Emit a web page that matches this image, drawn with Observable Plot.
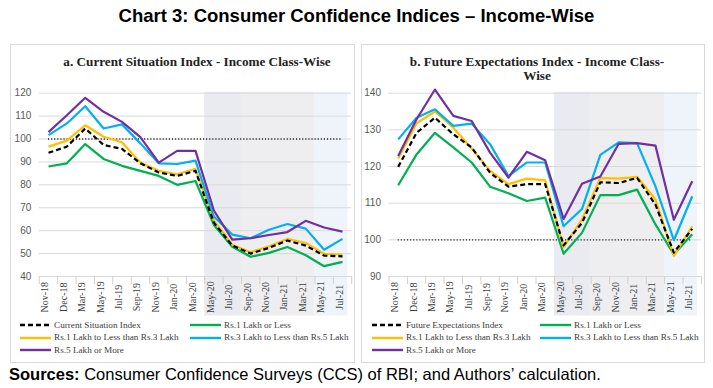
<!DOCTYPE html>
<html><head><meta charset="utf-8">
<script src="https://cdn.jsdelivr.net/npm/d3@7"></script>
<script src="https://cdn.jsdelivr.net/npm/@observablehq/plot@0.6"></script>
<style>
body{margin:0;background:#fff;}
#root{position:relative;width:713px;height:388px;overflow:hidden;font-family:"Liberation Sans",Arial,sans-serif;background:#fff;}
.abs{position:absolute;white-space:nowrap;}
.panel{position:absolute;border:1px solid #d9d9d9;box-sizing:border-box;background:#fff;}
.ptitle{position:absolute;font-family:"Liberation Serif",serif;font-weight:bold;font-size:13.2px;color:#222;text-align:center;line-height:14.3px;}
.leg{position:absolute;font-family:"Liberation Serif",serif;font-size:9.2px;color:#404040;line-height:12px;white-space:nowrap;}
svg.plot{position:absolute;}
</style></head>
<body><div id="root"></div>
<script>
const months = ["Nov-18","Dec-18","Mar-19","May-19","Jul-19","Sep-19","Nov-19","Jan-20","Mar-20","May-20","Jul-20","Sep-20","Nov-20","Jan-21","Mar-21","May-21","Jul-21"];

// a. Current Situation Index
const csiOverall = [94, 96.7, 104.6, 97.4, 95.7, 89.4, 85.4, 83.9, 86.1, 63.5, 53.5, 50, 52.5, 55.7, 53.5, 49.1, 48.8];
const csiUpTo1L = [88, 89.4, 97.8, 91.3, 88.3, 86.1, 83.9, 80, 81.7, 62.5, 53, 48.6, 50.3, 52.9, 49.3, 44.5, 46.4];
const csi1to3L  = [96.7, 99.3, 106, 101, 98.6, 89.7, 86.1, 84.6, 87, 64.5, 53.9, 50.6, 53.2, 56.4, 54.6, 49.9, 49.6];
const csi3to5L  = [101.7, 106.8, 114.3, 104.6, 106.4, 98.1, 89.4, 89.1, 90.6, 66.2, 58.3, 56.7, 60.4, 62.9, 60.9, 51.7, 56.4];
const csi5Lplus = [103, 110.4, 118, 111.9, 107.5, 100.8, 89.7, 94.8, 94.8, 68.8, 56.1, 56.7, 58.1, 59.4, 64.3, 61.4, 59.6];

// b. Future Expectations Index
const feiOverall = [119.9, 129.2, 133.3, 128.8, 125.2, 118.3, 114.5, 115.2, 115.2, 98.5, 104.6, 115.7, 115.5, 116.9, 109.6, 96.5, 103];
const feiUpTo1L = [114.9, 123.3, 129.2, 125.2, 121.1, 114.5, 112.7, 110.6, 111.5, 96.2, 101.9, 112.2, 112.2, 113.7, 104.2, 96, 101.5];
const fei1to3L  = [122.2, 131.8, 135, 130.6, 124.9, 118.8, 115.2, 116.7, 116.2, 98, 105.5, 116.9, 116.7, 117.2, 111, 95.6, 103.7];
const fei3to5L  = [127.4, 133.3, 135.6, 131.1, 131.7, 126.1, 117.4, 121.1, 121.1, 103.7, 108.4, 123.2, 126.6, 126.4, 114.6, 99.9, 111.9];
const fei5Lplus = [122.9, 132.9, 141, 133.8, 132.4, 123.8, 117, 124, 121.7, 105.7, 115.3, 117.3, 126.2, 126.4, 125.7, 105.5, 116];

const csiTicks = [40, 50, 60, 70, 80, 90, 100, 110, 120];
const feiTicks = [90, 100, 110, 120, 130, 140];

// shaded periods (category index)
const shadeStart = [8.5, 10.5, 14.5];
const shadeEnd   = [10.5, 14.5, 16.3];
const shadeFill  = ["#eaebf0", "#eeeef1", "#eff4fa"];

const names = ["Rs.1 Lakh or Less", "Rs.1 Lakh to Less than Rs.3 Lakh", "Rs.3 Lakh to Less than Rs.5 Lakh", "Rs.5 Lakh or More"];
const colors = ["#00b050", "#ffc000", "#00b0f0", "#7030a0"];

const root = document.getElementById("root");
function add(html){ root.insertAdjacentHTML("beforeend", html); }

add(`<div class="abs" style="left:0;top:5px;width:713px;text-align:center;font-weight:bold;font-size:18.5px;line-height:22px;color:#000;">Chart 3: Consumer Confidence Indices – Income-Wise</div>`);
add(`<div class="panel" style="left:10px;top:44px;width:345px;height:319px;"></div>`);
add(`<div class="panel" style="left:361px;top:44px;width:344px;height:319px;"></div>`);
add(`<div class="ptitle" style="left:0px;width:394px;top:55px;">a. Current Situation Index - Income Class-Wise</div>`);
add(`<div class="ptitle" style="left:337px;width:400px;top:54.5px;">b. Future Expectations Index - Income Class-<br>Wise</div>`);

const shades = shadeStart.map((s, k) => ({x1: s, x2: shadeEnd[k], fill: shadeFill[k]}));
const boundaries = d3.range(17 + 1).map(k => k - 0.5);

function makePlot(overall, groups, yDomain, yTicks, width, marginLeft, marginRight) {
  const lineOpts = {strokeWidth: 2.2, strokeLinejoin: "round", strokeLinecap: "butt"};
  const lines = groups.map((vals, g) =>
    Plot.line(vals, {x: (d, i) => i, y: d => d, stroke: colors[g], ...lineOpts}));
  const svg = Plot.plot({
    width, height: 240,
    marginTop: 12.7, marginBottom: 44, marginLeft, marginRight,
    x: {domain: [-0.5, 16.5], axis: null},
    y: {domain: yDomain, axis: null},
    style: {background: "transparent", overflow: "visible"},
    marks: [
      Plot.rect(shades, {x1: "x1", x2: "x2", fill: "fill", insetTop: -1, insetBottom: -39.5}),
      Plot.gridY(yTicks, {stroke: "#d9d9d9", strokeOpacity: 1, strokeWidth: 1}),
      Plot.axisX(boundaries, {tickSize: 8, tickFormat: () => "", stroke: "#d0d0d0"}),
      Plot.text(months, {x: (d, i) => i, frameAnchor: "bottom", dy: 20.7, rotate: -90, textAnchor: "middle",
        fontSize: 10, fontFamily: "Liberation Serif", fill: "#404040"}),
      Plot.axisY(yTicks, {tickSize: 0, tickPadding: 8, fontSize: 10, fontFamily: "Liberation Sans", fill: "#595959"}),
      Plot.ruleY([100], {x1: 0, x2: 16, stroke: "#222", strokeWidth: 1.4, strokeDasharray: "1.1,2"}),
      ...lines,
      Plot.line(overall, {x: (d, i) => i, y: d => d, stroke: "#000", strokeDasharray: "5,3", ...lineOpts})
    ]
  });
  svg.classList.add("plot");
  return svg;
}

const p1 = makePlot(csiOverall, [csiUpTo1L, csi1to3L, csi3to5L, csi5Lplus], [40, 120], csiTicks, 345, 28.8, 3.8);
p1.style.left = "10px"; p1.style.top = "80px";
root.appendChild(p1);
const p2 = makePlot(feiOverall, [feiUpTo1L, fei1to3L, fei3to5L, fei5Lplus], [90, 140], feiTicks, 344, 27.5, 4.1);
p2.style.left = "361px"; p2.style.top = "80px";
root.appendChild(p2);

function legend(x0, x1, title) {
  const rows = [325, 337.5, 350];
  const entries = [
    {name: title, color: "#000", dash: true, col: 0, row: 0},
    {name: names[0], color: colors[0], col: 1, row: 0},
    {name: names[1], color: colors[1], col: 0, row: 1},
    {name: names[2], color: colors[2], col: 1, row: 1},
    {name: names[3], color: colors[3], col: 0, row: 2}
  ];
  for (const e of entries) {
    const x = e.col === 0 ? x0 : x1;
    const y = rows[e.row];
    add(`<svg class="abs" style="left:${x}px;top:${y - 3}px;" width="31" height="6"><line x1="0" x2="31" y1="3" y2="3" stroke="${e.color}" stroke-width="2.4" ${e.dash ? 'stroke-dasharray="5,3"' : ''}/></svg>`);
    add(`<div class="leg" style="left:${x + 34}px;top:${y - 6.5}px;">${e.name}</div>`);
  }
}
legend(20, 190, "Current Situation Index");
legend(372, 540, "Future Expectations Index");

add(`<div class="abs" style="left:9px;top:365px;font-size:16.5px;line-height:19px;color:#000;"><b>Sources:</b> Consumer Confidence Surveys (CCS) of RBI; and Authors’ calculation.</div>`);
</script>
</body></html>
